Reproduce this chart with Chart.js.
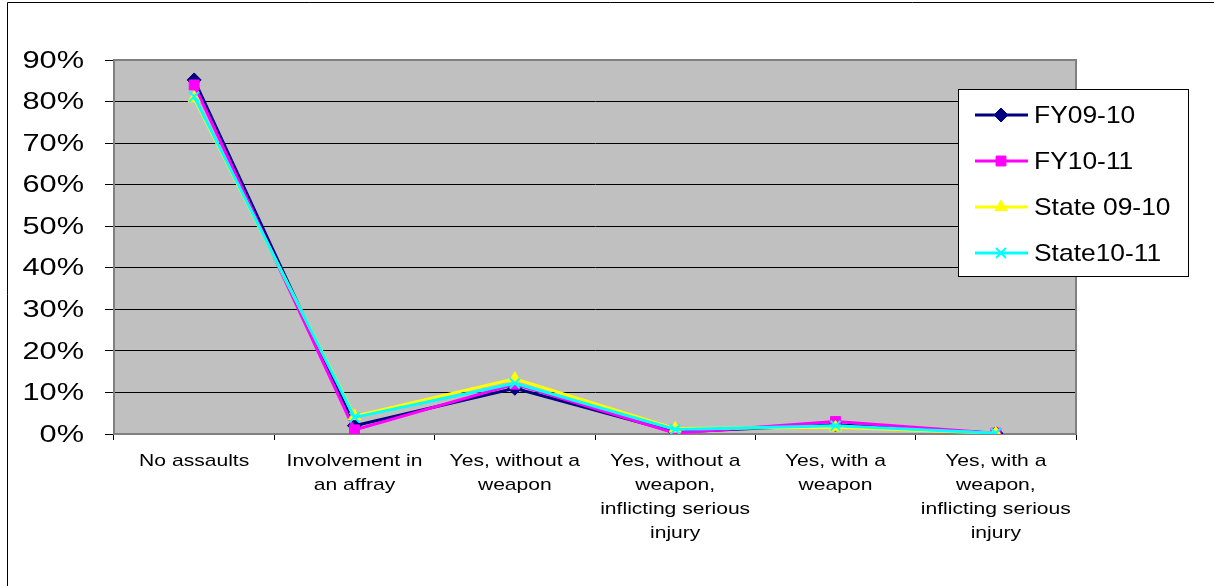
<!DOCTYPE html>
<html>
<head>
<meta charset="utf-8">
<style>
  html, body { margin: 0; padding: 0; background: #fff; }
  #chart { display: block; }
</style>
<script src="https://cdn.jsdelivr.net/npm/chart.js@4/dist/chart.umd.min.js"></script>
</head>
<body>
<canvas id="chart" width="1214" height="586"></canvas>
<script>
// categories and series (percent)
const categories = [
  "No assaults",
  ["Involvement in", "an affray"],
  ["Yes, without a", "weapon"],
  ["Yes, without a", "weapon,", "inflicting serious", "injury"],
  ["Yes, with a", "weapon"],
  ["Yes, with a", "weapon,", "inflicting serious", "injury"]
];
const fy0910 = [85.2, 2.0, 11.0, 0.5, 2.2, 0.2];
const fy1011 = [84.0, 1.0, 12.0, 0.2, 3.0, 0.2];
const state0910 = [80.8, 4.3, 13.3, 1.3, 1.6, 0.2];
const state1011 = [81.2, 4.0, 12.2, 1.1, 2.0, 0.2];
const yTicks = [0, 10, 20, 30, 40, 50, 60, 70, 80, 90];

const FONT = "'Liberation Sans', Arial, sans-serif";

// draw text squeezed/stretched horizontally like the original picture
function wideText(ctx, text, x, y, sx) {
  ctx.save();
  ctx.translate(x, y);
  ctx.scale(sx, 1);
  ctx.fillText(text, 0, 0);
  ctx.restore();
}

// grey plot background + plot border + outer frame
const frame = {
  id: "frame",
  beforeDraw(chart) {
    const { ctx, chartArea: a } = chart;
    ctx.save();
    ctx.fillStyle = "#ffffff";
    ctx.fillRect(0, 0, chart.width, chart.height);
    ctx.fillStyle = "#c0c0c0";
    ctx.fillRect(a.left, a.top, a.right - a.left, a.bottom - a.top);
    ctx.strokeStyle = "#000";
    ctx.lineWidth = 1;
    ctx.beginPath();
    ctx.moveTo(7.5, chart.height);
    ctx.lineTo(7.5, 2.5);
    ctx.lineTo(chart.width, 2.5);
    ctx.stroke();
    ctx.restore();
  },
  beforeDatasetsDraw(chart) {
    const { ctx, chartArea: a } = chart;
    ctx.save();
    ctx.strokeStyle = "#808080";
    ctx.lineWidth = 2;
    ctx.beginPath();
    ctx.moveTo(a.left, a.top);
    ctx.lineTo(a.right, a.top);
    ctx.lineTo(a.right, a.bottom);
    ctx.stroke();
    ctx.restore();
  }
};

// axis labels, placed from the scales' own tick positions
const axisLabels = {
  id: "axisLabels",
  afterDraw(chart) {
    const { ctx, scales } = chart;
    ctx.save();
    ctx.fillStyle = "#000";
    ctx.textBaseline = "middle";

    ctx.font = "24px " + FONT;
    ctx.textAlign = "right";
    scales.y.ticks.forEach(t => {
      wideText(ctx, t.value + "%", 84, scales.y.getPixelForValue(t.value) + 1, 1.28);
    });

    ctx.font = "17px " + FONT;
    ctx.textAlign = "center";
    const top = scales.x.top;
    categories.forEach((lab, i) => {
      const lines = Array.isArray(lab) ? lab : [lab];
      const cx = scales.x.getPixelForTick(i);
      lines.forEach((ln, j) => {
        wideText(ctx, ln, cx, top + 27 + j * 24, 1.24);
      });
    });
    ctx.restore();
  }
};

// legend box drawn inside the right part of the chart
const boxLegend = {
  id: "boxLegend",
  afterDraw(chart) {
    const { ctx } = chart;
    const x = 958.5, y = 89.5, w = 230, h = 187;
    ctx.save();
    ctx.fillStyle = "#fff";
    ctx.fillRect(x, y, w, h);
    ctx.strokeStyle = "#000";
    ctx.lineWidth = 1;
    ctx.strokeRect(x, y, w, h);
    ctx.font = "24px " + FONT;
    ctx.textBaseline = "middle";
    ctx.textAlign = "left";
    chart.data.datasets.forEach((ds, i) => {
      const cy = 115 + i * 46;
      ctx.strokeStyle = ds.borderColor;
      ctx.lineWidth = 3;
      ctx.beginPath();
      ctx.moveTo(975, cy);
      ctx.lineTo(1028, cy);
      ctx.stroke();
      ctx.fillStyle = ds.pointBackgroundColor;
      ctx.strokeStyle = ds.pointBorderColor;
      ctx.lineWidth = ds.pointBorderWidth;
      Chart.helpers.drawPoint(ctx, {
        pointStyle: ds.pointStyle,
        radius: ds.pointRadius,
        borderWidth: ds.pointBorderWidth,
        rotation: 0
      }, 1001, cy);
      ctx.fillStyle = "#000";
      wideText(ctx, ds.label, 1034, cy + 1, 1.1);
    });
    ctx.restore();
  }
};

const makeSet = (label, data, color, style, order) => ({
  label: label,
  data: data,
  borderColor: color,
  backgroundColor: color,
  pointBackgroundColor: color,
  pointBorderColor: color,
  pointStyle: style,
  pointRadius: 7,
  pointHoverRadius: 7,
  pointBorderWidth: style === "crossRot" ? 2 : 1,
  borderWidth: 3,
  tension: 0,
  order: order
});

new Chart(document.getElementById("chart"), {
  type: "line",
  data: {
    labels: categories,
    datasets: [
      makeSet("FY09-10", fy0910, "#000080", "rectRot", 3),
      makeSet("FY10-11", fy1011, "#ff00ff", "rect", 2),
      makeSet("State 09-10", state0910, "#ffff00", "triangle", 1),
      makeSet("State10-11", state1011, "#00ffff", "crossRot", 0)
    ]
  },
  options: {
    responsive: false,
    animation: false,
    layout: { padding: { left: 14, right: 138, top: 60, bottom: 0 } },
    plugins: { legend: { display: false }, tooltip: { enabled: false } },
    scales: {
      x: {
        offset: true,
        grid: { offset: true, drawOnChartArea: false, color: "#000", tickLength: 6 },
        border: { color: "#808080", width: 2 },
        ticks: { display: false, autoSkip: false },
        afterFit(scale) { scale.height = 152; }
      },
      y: {
        min: 0,
        max: 90,
        afterBuildTicks(scale) { scale.ticks = yTicks.map(v => ({ value: v })); },
        grid: { color: "#000", tickLength: 9 },
        border: { color: "#808080", width: 2 },
        ticks: { display: false },
        afterFit(scale) { scale.width = 100; }
      }
    }
  },
  plugins: [frame, axisLabels, boxLegend]
});
</script>
</body>
</html>
